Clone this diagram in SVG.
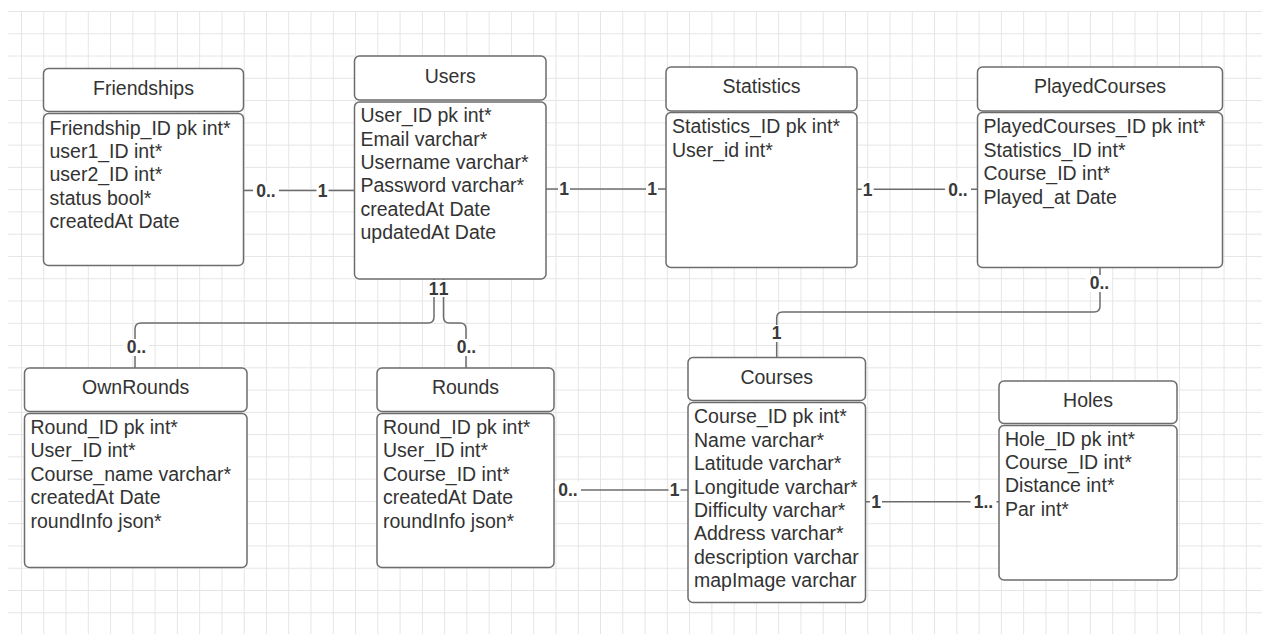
<svg xmlns="http://www.w3.org/2000/svg" width="1262" height="634" viewBox="0 0 1262 634">
<style>
.hd{fill:#fff;stroke:#6c6c6c;stroke-width:1.5}
.bd{fill:#fff;stroke:#6c6c6c;stroke-width:1.5}
.t{font-family:"Liberation Sans",Arial,sans-serif;font-size:19.5px;fill:#333}
.tc{text-anchor:middle}
.ln{fill:none;stroke:#6c6c6c;stroke-width:1.5}
.lb{font-family:"Liberation Sans",Arial,sans-serif;font-size:17.5px;font-weight:bold;fill:#3a3a3a;text-anchor:middle}
.lbg{fill:#fff}
</style>
<defs>
<pattern id="grid" patternUnits="userSpaceOnUse" x="21" y="11" width="22.27" height="22.27">
<path d="M0.5 0V22.27M0 0.5H22.27" stroke="#e5e5e5" stroke-width="1" fill="none"/>
</pattern>
</defs>
<rect width="1262" height="634" fill="#fff"/>
<rect x="8" y="11" width="1254" height="623" fill="url(#grid)"/>

<g id="connectors">
<path class="ln" d="M243.5 190.5H354.5"/>
<path class="ln" d="M546 189H666"/>
<path class="ln" d="M857 189.3H977.5"/>
<path class="ln" d="M434 279V317Q434 323 428 323H141Q135 323 135 329V368"/>
<path class="ln" d="M443.5 279V317Q443.5 323 449.5 323H460Q466 323 466 329V368"/>
<path class="ln" d="M554 490H688"/>
<path class="ln" d="M1100 267.5V306Q1100 312 1094 312H782.7Q776.7 312 776.7 318V357.5"/>
<path class="ln" d="M865.5 501.7H999"/>
<g id="labels">
<rect class="lbg" x="253" y="182" width="26" height="17"/><text class="lb" x="266" y="196.8">0..</text>
<rect class="lbg" x="316.5" y="182" width="12" height="17"/><text class="lb" x="322.5" y="196.8">1</text>
<rect class="lbg" x="558" y="180.5" width="12" height="17"/><text class="lb" x="564" y="195.3">1</text>
<rect class="lbg" x="646" y="180.5" width="12" height="17"/><text class="lb" x="652" y="195.3">1</text>
<rect class="lbg" x="861.7" y="181" width="12" height="17"/><text class="lb" x="867.7" y="195.6">1</text>
<rect class="lbg" x="945" y="181" width="26" height="17"/><text class="lb" x="958" y="195.6">0..</text>
<rect class="lbg" x="426" y="280" width="24" height="17"/><text class="lb" x="433.5" y="294.5">1</text><text class="lb" x="443.5" y="294.5">1</text>
<rect class="lbg" x="123" y="339" width="26" height="17"/><text class="lb" x="136.5" y="353.3">0..</text>
<rect class="lbg" x="453" y="339" width="26" height="17"/><text class="lb" x="466.5" y="353.3">0..</text>
<rect class="lbg" x="555" y="481.5" width="26" height="17"/><text class="lb" x="568" y="496.3">0..</text>
<rect class="lbg" x="668.5" y="481.5" width="12" height="17"/><text class="lb" x="674.5" y="496.3">1</text>
<rect class="lbg" x="1086" y="275" width="26" height="17"/><text class="lb" x="1099.5" y="289.3">0..</text>
<rect class="lbg" x="770.7" y="325" width="12" height="17"/><text class="lb" x="776.7" y="339.3">1</text>
<rect class="lbg" x="870" y="493" width="12" height="17"/><text class="lb" x="876" y="508">1</text>
<rect class="lbg" x="970.5" y="493" width="26" height="17"/><text class="lb" x="983.5" y="508">1..</text>
</g>
</g>

<g id="friendships">
<rect class="hd" x="43.5" y="68.5" width="200" height="43" rx="5"/>
<rect class="bd" x="43.5" y="113.5" width="200" height="152" rx="5"/>
<text class="t tc" x="143.5" y="95">Friendships</text>
<text class="t" x="49.5" y="134.5">Friendship_ID pk int*</text>
<text class="t" x="49.5" y="157.9">user1_ID int*</text>
<text class="t" x="49.5" y="181.3">user2_ID int*</text>
<text class="t" x="49.5" y="204.7">status bool*</text>
<text class="t" x="49.5" y="228.1">createdAt Date</text>
</g>

<g id="users">
<rect class="hd" x="354.5" y="56" width="191.5" height="44" rx="5"/>
<rect class="bd" x="354.5" y="102" width="191.5" height="177" rx="5"/>
<text class="t tc" x="450.2" y="82.5">Users</text>
<text class="t" x="360.5" y="122.2">User_ID pk int*</text>
<text class="t" x="360.5" y="145.6">Email varchar*</text>
<text class="t" x="360.5" y="169">Username varchar*</text>
<text class="t" x="360.5" y="192.4">Password varchar*</text>
<text class="t" x="360.5" y="215.8">createdAt Date</text>
<text class="t" x="360.5" y="239.2">updatedAt Date</text>
</g>

<g id="statistics">
<rect class="hd" x="666" y="67" width="191" height="44" rx="5"/>
<rect class="bd" x="666" y="112.5" width="191" height="155" rx="5"/>
<text class="t tc" x="761.5" y="93.3">Statistics</text>
<text class="t" x="672" y="133.3">Statistics_ID pk int*</text>
<text class="t" x="672" y="156.7">User_id int*</text>
</g>

<g id="playedcourses">
<rect class="hd" x="977.5" y="67" width="245" height="44" rx="5"/>
<rect class="bd" x="977.5" y="112.5" width="245" height="155" rx="5"/>
<text class="t tc" x="1100" y="93.3">PlayedCourses</text>
<text class="t" x="983.5" y="133.3">PlayedCourses_ID pk int*</text>
<text class="t" x="983.5" y="156.7">Statistics_ID int*</text>
<text class="t" x="983.5" y="180.1">Course_ID int*</text>
<text class="t" x="983.5" y="203.5">Played_at Date</text>
</g>

<g id="ownrounds">
<rect class="hd" x="24.5" y="368" width="222.5" height="43.5" rx="5"/>
<rect class="bd" x="24.5" y="413.5" width="222.5" height="154" rx="5"/>
<text class="t tc" x="135.7" y="394">OwnRounds</text>
<text class="t" x="30.5" y="434">Round_ID pk int*</text>
<text class="t" x="30.5" y="457.4">User_ID int*</text>
<text class="t" x="30.5" y="480.8">Course_name varchar*</text>
<text class="t" x="30.5" y="504.2">createdAt Date</text>
<text class="t" x="30.5" y="527.6">roundInfo json*</text>
</g>

<g id="rounds">
<rect class="hd" x="377" y="368" width="177" height="43.5" rx="5"/>
<rect class="bd" x="377" y="413.5" width="177" height="154" rx="5"/>
<text class="t tc" x="465.5" y="394">Rounds</text>
<text class="t" x="383" y="434">Round_ID pk int*</text>
<text class="t" x="383" y="457.4">User_ID int*</text>
<text class="t" x="383" y="480.8">Course_ID int*</text>
<text class="t" x="383" y="504.2">createdAt Date</text>
<text class="t" x="383" y="527.6">roundInfo json*</text>
</g>

<g id="courses">
<rect class="hd" x="688" y="357.5" width="177.5" height="43" rx="5"/>
<rect class="bd" x="688" y="402.5" width="177.5" height="200" rx="5"/>
<text class="t tc" x="776.7" y="384">Courses</text>
<text class="t" x="694" y="423.3">Course_ID pk int*</text>
<text class="t" x="694" y="446.7">Name varchar*</text>
<text class="t" x="694" y="470.1">Latitude varchar*</text>
<text class="t" x="694" y="493.5">Longitude varchar*</text>
<text class="t" x="694" y="516.9">Difficulty varchar*</text>
<text class="t" x="694" y="540.3">Address varchar*</text>
<text class="t" x="694" y="563.7">description varchar</text>
<text class="t" x="694" y="587.1">mapImage varchar</text>
</g>

<g id="holes">
<rect class="hd" x="999" y="381" width="178" height="42.5" rx="5"/>
<rect class="bd" x="999" y="425.5" width="178" height="154.5" rx="5"/>
<text class="t tc" x="1088" y="407">Holes</text>
<text class="t" x="1005" y="445.5">Hole_ID pk int*</text>
<text class="t" x="1005" y="468.9">Course_ID int*</text>
<text class="t" x="1005" y="492.3">Distance int*</text>
<text class="t" x="1005" y="515.7">Par int*</text>
</g>
</svg>
